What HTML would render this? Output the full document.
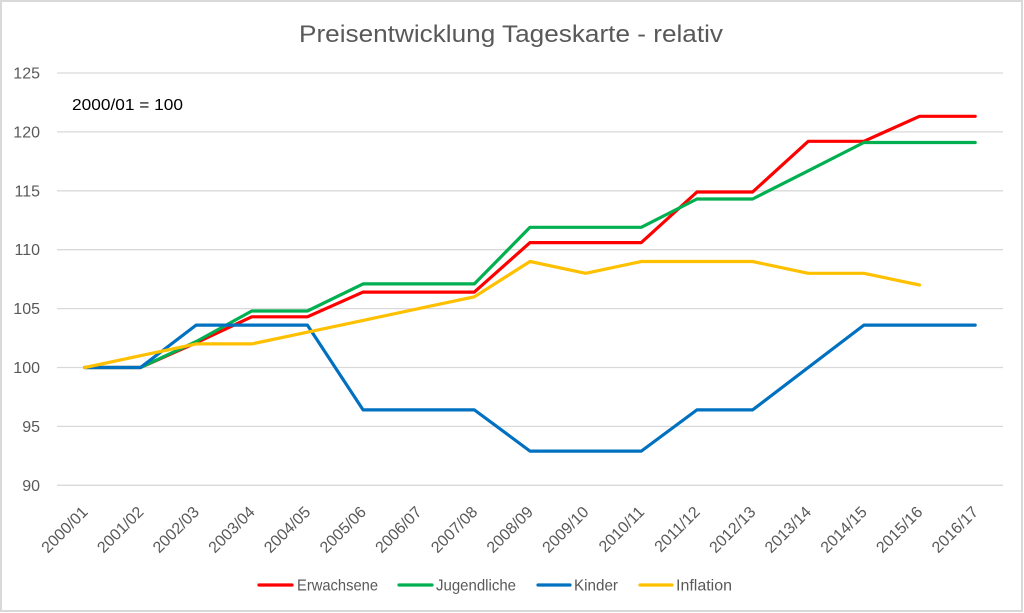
<!DOCTYPE html>
<html>
<head>
<meta charset="utf-8">
<style>
  html, body { margin:0; padding:0; background:#fff; }
  svg { display:block; }
  text { font-family: "Liberation Sans", Arial, sans-serif; }
</style>
</head>
<body>
<svg width="1024" height="613" viewBox="0 0 1024 613" xmlns="http://www.w3.org/2000/svg">
  <rect x="0" y="0" width="1024" height="613" fill="#fff"/>
  <rect x="1" y="1" width="1021" height="610" fill="#fff" stroke="#D9D9D9" stroke-width="2"/>

  <!-- Title -->
  <text x="299" y="42" font-size="24.5" fill="#595959" textLength="424" lengthAdjust="spacingAndGlyphs">Preisentwicklung Tageskarte - relativ</text>

  <!-- Gridlines -->
  <g stroke="#D9D9D9" stroke-width="1.3">
    <line x1="57" y1="73" x2="1003" y2="73"/>
    <line x1="57" y1="131.9" x2="1003" y2="131.9"/>
    <line x1="57" y1="190.8" x2="1003" y2="190.8"/>
    <line x1="57" y1="249.7" x2="1003" y2="249.7"/>
    <line x1="57" y1="308.6" x2="1003" y2="308.6"/>
    <line x1="57" y1="367.5" x2="1003" y2="367.5"/>
    <line x1="57" y1="426.4" x2="1003" y2="426.4"/>
    <line x1="57" y1="485.3" x2="1003" y2="485.3"/>
  </g>

  <!-- Y labels -->
  <g font-size="16" fill="#595959" text-anchor="end">
    <text x="40" y="78.5">125</text>
    <text x="40" y="137.4">120</text>
    <text x="40" y="196.3">115</text>
    <text x="40" y="255.2">110</text>
    <text x="40" y="314.1">105</text>
    <text x="40" y="373">100</text>
    <text x="40" y="431.9">95</text>
    <text x="40" y="490.8">90</text>
  </g>

  <!-- Annotation -->
  <text x="72" y="110" font-size="16" fill="#000" textLength="111" lengthAdjust="spacingAndGlyphs">2000/01 = 100</text>

  <!-- X labels -->
  <g font-size="16" fill="#595959" text-anchor="end">
    <text transform="translate(88.8,513) rotate(-45)">2000/01</text>
    <text transform="translate(144.5,513) rotate(-45)">2001/02</text>
    <text transform="translate(200.1,513) rotate(-45)">2002/03</text>
    <text transform="translate(255.8,513) rotate(-45)">2003/04</text>
    <text transform="translate(311.4,513) rotate(-45)">2004/05</text>
    <text transform="translate(367.1,513) rotate(-45)">2005/06</text>
    <text transform="translate(422.7,513) rotate(-45)">2006/07</text>
    <text transform="translate(478.4,513) rotate(-45)">2007/08</text>
    <text transform="translate(534,513) rotate(-45)">2008/09</text>
    <text transform="translate(589.7,513) rotate(-45)">2009/10</text>
    <text transform="translate(645.3,513) rotate(-45)">2010/11</text>
    <text transform="translate(700.9,513) rotate(-45)">2011/12</text>
    <text transform="translate(756.6,513) rotate(-45)">2012/13</text>
    <text transform="translate(812.2,513) rotate(-45)">2013/14</text>
    <text transform="translate(867.9,513) rotate(-45)">2014/15</text>
    <text transform="translate(923.5,513) rotate(-45)">2015/16</text>
    <text transform="translate(979.2,513) rotate(-45)">2016/17</text>
  </g>

  <!-- Series -->
  <g fill="none" stroke-width="3.2" stroke-linejoin="round" stroke-linecap="round">
    <!-- Erwachsene -->
    <polyline stroke="#FF0000" points="84.82,367.5 140.47,367.5 196.12,342.8 251.76,316.8 307.41,316.8 363.06,292.1 418.70,292.1 474.35,292.1 530.00,242.6 585.65,242.6 641.29,242.6 696.94,192.0 752.59,192.0 808.23,141.3 863.88,141.3 919.53,116.3 975.18,116.3"/>
    <!-- Jugendliche -->
    <polyline stroke="#00B050" points="84.82,367.5 140.47,367.5 196.12,341.6 251.76,311.0 307.41,311.0 363.06,283.9 418.70,283.9 474.35,283.9 530.00,227.3 585.65,227.3 641.29,227.3 696.94,199.0 752.59,199.0 808.23,170.8 863.88,142.5 919.53,142.5 975.18,142.5"/>
    <!-- Kinder -->
    <polyline stroke="#0070C0" points="84.82,367.5 140.47,367.5 196.12,325.1 251.76,325.1 307.41,325.1 363.06,409.9 418.70,409.9 474.35,409.9 530.00,451.1 585.65,451.1 641.29,451.1 696.94,409.9 752.59,409.9 808.23,367.5 863.88,325.1 919.53,325.1 975.18,325.1"/>
    <!-- Inflation -->
    <polyline stroke="#FFC000" points="84.82,367.5 140.47,355.7 196.12,343.9 251.76,343.9 307.41,332.2 363.06,320.4 418.70,308.6 474.35,296.8 530.00,261.5 585.65,273.3 641.29,261.5 696.94,261.5 752.59,261.5 808.23,273.3 863.88,273.3 919.53,285.0"/>
  </g>

  <!-- Legend -->
  <g stroke-width="3.2" stroke-linecap="round">
    <line x1="259" y1="585" x2="292" y2="585" stroke="#FF0000"/>
    <line x1="399" y1="585" x2="432" y2="585" stroke="#00B050"/>
    <line x1="538" y1="585" x2="570" y2="585" stroke="#0070C0"/>
    <line x1="640" y1="585" x2="672" y2="585" stroke="#FFC000"/>
  </g>
  <g font-size="16" fill="#595959">
    <text x="297" y="590.5" textLength="81" lengthAdjust="spacingAndGlyphs">Erwachsene</text>
    <text x="436" y="590.5" textLength="80" lengthAdjust="spacingAndGlyphs">Jugendliche</text>
    <text x="574" y="590.5" textLength="44" lengthAdjust="spacingAndGlyphs">Kinder</text>
    <text x="676" y="590.5" textLength="56" lengthAdjust="spacingAndGlyphs">Inflation</text>
  </g>
</svg>
</body>
</html>
